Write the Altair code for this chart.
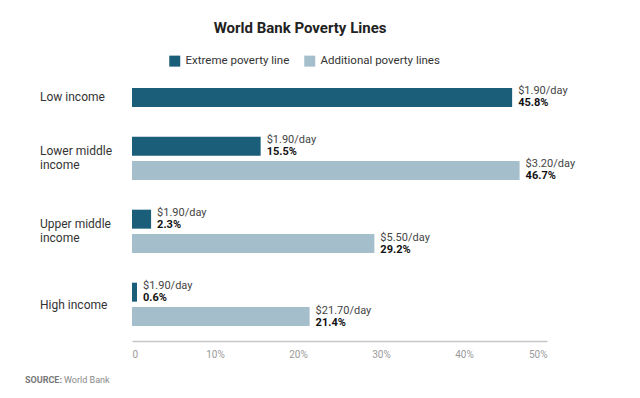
import altair as alt
import pandas as pd

groups = ["Low income", "Lower middle income", "Upper middle income", "High income"]
group_labels = ["Low income", "Lower middle\nincome", "Upper middle\nincome", "High income"]
extreme_values = [45.8, 15.5, 2.3, 0.6]
extreme_lines = ["$1.90/day", "$1.90/day", "$1.90/day", "$1.90/day"]
additional_values = [None, 46.7, 29.2, 21.4]
additional_lines = [None, "$3.20/day", "$5.50/day", "$21.70/day"]
series_names = ["Extreme poverty line", "Additional poverty lines"]
x_ticks = [0, 10, 20, 30, 40, 50]

DARK = "#1b5e7a"
LIGHT = "#a4bfcb"
FONT = "Roboto"

rows = []
domain = []
for i, g in enumerate(groups):
    if i > 0:
        domain.append(f"gap{i}")
    k = f"{g}|E"
    domain.append(k)
    rows.append({"key": k, "group": g, "series": series_names[0],
                 "value": extreme_values[i], "line": extreme_lines[i],
                 "pct": f"{extreme_values[i]}%"})
    if additional_values[i] is not None:
        k = f"{g}|A"
        domain.append(k)
        rows.append({"key": k, "group": g, "series": series_names[1],
                     "value": additional_values[i], "line": additional_lines[i],
                     "pct": f"{additional_values[i]}%"})
df = pd.DataFrame(rows)

lab = pd.DataFrame({
    "key": [f"{g}|E" for g in groups],
    "label": group_labels,
    "paired": [v is not None for v in additional_values],
})

y_enc = alt.Y("key:N", scale=alt.Scale(domain=domain, paddingInner=0.22, paddingOuter=0), axis=None)
x_enc = alt.X("value:Q", scale=alt.Scale(domain=[0, 50]),
              axis=alt.Axis(values=x_ticks, title=None, grid=False, ticks=False,
                            domainColor="#c8c8c8", domainWidth=1.5,
                            labelColor="#9a9a9a", labelFontSize=10, labelFont=FONT,
                            labelPadding=8, offset=15,
                            labelExpr="datum.value == 0 ? '0' : datum.value + '%'"))

base = alt.Chart(df)

bars = base.mark_bar().encode(
    x=x_enc,
    y=y_enc,
    color=alt.Color("series:N",
                    scale=alt.Scale(domain=series_names, range=[DARK, LIGHT]),
                    legend=alt.Legend(title=None, orient="none", direction="horizontal",
                                      legendX=37, legendY=-33, symbolType="square",
                                      symbolSize=121, symbolStrokeWidth=0,
                                      labelFont=FONT, labelFontSize=11.5, labelColor="#333333",
                                      labelOffset=5, columnPadding=14)),
)

line_text = base.mark_text(align="left", baseline="middle", dx=6, dy=-6,
                           font=FONT, fontSize=11, color="#444444").encode(
    x="value:Q", y=alt.Y("key:N"), text="line:N")
pct_text = base.mark_text(align="left", baseline="middle", dx=6, dy=6,
                          font=FONT, fontSize=11, fontWeight="bold", color="#111111").encode(
    x="value:Q", y=alt.Y("key:N"), text="pct:N")

lab_kw = dict(align="left", baseline="middle", font=FONT, fontSize=12, color="#333333",
              lineBreak="\n", lineHeight=14)
lab_single = alt.Chart(lab).transform_filter("!datum.paired").mark_text(**lab_kw).encode(
    x=alt.value(-92), y=alt.Y("key:N"), text="label:N")
lab_paired_one = alt.Chart(lab).transform_filter(
    "datum.paired && indexof(datum.label, '\\n') < 0").mark_text(dy=13, **lab_kw).encode(
    x=alt.value(-92), y=alt.Y("key:N"), text="label:N")
lab_paired_two = alt.Chart(lab).transform_filter(
    "datum.paired && indexof(datum.label, '\\n') >= 0").mark_text(dy=5, **lab_kw).encode(
    x=alt.value(-92), y=alt.Y("key:N"), text="label:N")

src1 = alt.Chart(pd.DataFrame({"t": ["SOURCE:"]})).mark_text(
    align="left", baseline="middle", font=FONT, fontSize=9, fontWeight="bold",
    color="#777777").encode(x=alt.value(-107), y=alt.value(292), text="t:N")
src2 = alt.Chart(pd.DataFrame({"t": ["World Bank"]})).mark_text(
    align="left", baseline="middle", font=FONT, fontSize=9,
    color="#888888").encode(x=alt.value(-68), y=alt.value(292), text="t:N")

chart = alt.layer(bars, line_text, pct_text, lab_single, lab_paired_one, lab_paired_two,
                  src1, src2).properties(
    width=415, height=238, background="white",
    padding={"left": 17, "top": 13, "right": 5, "bottom": 5},
    title=alt.Title("World Bank Poverty Lines", font=FONT, fontSize=15, fontWeight="bold",
                    color="#222222", anchor="middle", frame="bounds", offset=19),
).configure_view(stroke=None)

chart.save("out.html", embed_options={"renderer": "svg", "actions": False})
